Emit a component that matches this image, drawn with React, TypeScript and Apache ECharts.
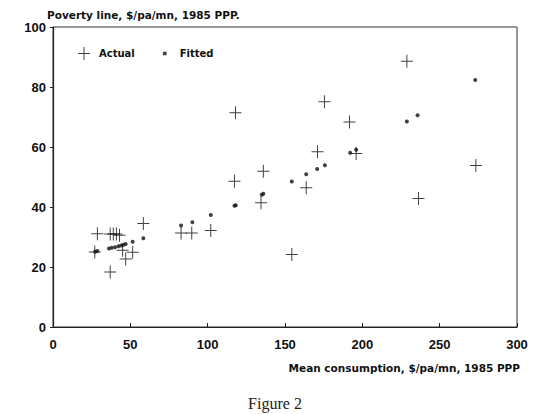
import React, { useEffect, useRef } from "react";
import * as echarts from "echarts";

const actualX = [27, 28.7, 37, 39, 41, 43, 37, 45, 47, 51.5, 58.4, 82.8, 89.7, 102, 118, 117.3, 136, 134.5, 154.4, 163.7, 171, 175.5, 191.7, 196, 228.8, 236.3, 273.4];
const actualY = [25, 31.1, 31, 31, 31, 30.6, 18.3, 25.6, 22.7, 24.9, 34.5, 31.3, 31.3, 32.2, 71.4, 48.6, 51.9, 41.4, 24.2, 46.4, 58.4, 75.1, 68.3, 57.8, 88.6, 42.8, 53.8];

const fittedX = [27.2, 28.7, 36.2, 38, 40.1, 42.3, 44, 45.5, 47, 51.5, 58.4, 82.8, 90.1, 102, 117.3, 118.2, 135, 136, 154.4, 163.7, 170.8, 175.8, 192.1, 196, 228.8, 235.7, 273];
const fittedY = [25.1, 25.3, 26.2, 26.4, 26.6, 26.9, 27.2, 27.4, 27.7, 28.4, 29.6, 33.8, 34.9, 37.3, 40.4, 40.6, 44.1, 44.4, 48.5, 50.9, 52.7, 53.9, 58.1, 59.1, 68.5, 70.6, 82.3];

const seriesNames = ["Actual", "Fitted"];
const yTitle = "Poverty line, $/pa/mn, 1985 PPP.";
const xTitle = "Mean consumption, $/pa/mn, 1985 PPP";
const caption = "Figure 2";

const CROSS = "path://M0,6H5.5V0H6.5V6H12V7H6.5V13H5.5V7H0Z";
const DOT_ICON = "path://M0,0L0.01,0L0,0.01Z M4.5,4.5H8.5V8.5H4.5Z M12.99,13L13,13L13,12.99Z";

export default function App() {
  const ref = useRef<HTMLDivElement>(null);
  useEffect(() => {
    if (!ref.current) return;
    const chart = echarts.init(ref.current, null, { renderer: "svg" });
    const font = "'Liberation Sans', Arial, sans-serif";
    const wide = "'DejaVu Sans', Verdana, sans-serif";
    chart.setOption({
      animation: false,
      backgroundColor: "#fff",
      graphic: [
        {
          type: "text",
          x: 47,
          y: 15,
          style: { text: yTitle, font: `bold 10.5px ${wide}`, fill: "#111", textAlign: "left", textVerticalAlign: "middle" },
        },
        {
          type: "text",
          x: 520,
          y: 368,
          style: { text: xTitle, font: `bold 10.5px ${wide}`, fill: "#111", textAlign: "right", textVerticalAlign: "middle" },
        },
        {
          type: "text",
          x: 275,
          y: 403,
          style: { text: caption, font: "16px 'Liberation Serif', 'Times New Roman', serif", fill: "#222", textAlign: "center", textVerticalAlign: "middle" },
        },
      ],
      legend: {
        left: 78,
        top: 47,
        padding: 0,
        itemWidth: 12,
        itemHeight: 13,
        itemGap: 24,
        textStyle: { fontFamily: wide, fontSize: 10, fontWeight: "bold", color: "#111", padding: [0, 0, 0, 4] },
        data: [
          { name: seriesNames[0], icon: CROSS },
          { name: seriesNames[1], icon: DOT_ICON },
        ],
      },
      grid: { left: 53, right: 23, top: 27, bottom: 87, show: true, borderColor: "#333", borderWidth: 1 },
      xAxis: {
        type: "value",
        min: 0,
        max: 300,
        interval: 50,
        splitLine: { show: false },
        axisLine: { lineStyle: { color: "#222", width: 1.2 } },
        axisTick: { inside: true, length: 4, lineStyle: { color: "#222" } },
        axisLabel: { margin: 11, fontFamily: font, fontSize: 13, fontWeight: "bold", color: "#111" },
      },
      yAxis: {
        type: "value",
        min: 0,
        max: 100,
        interval: 20,
        splitLine: { show: false },
        axisLine: { show: true, lineStyle: { color: "#222", width: 1.2 } },
        axisTick: { show: true, inside: false, length: 3, lineStyle: { color: "#222" } },
        axisLabel: { margin: 7, fontFamily: font, fontSize: 13, fontWeight: "bold", color: "#111" },
      },
      series: [
        {
          name: seriesNames[0],
          type: "scatter",
          symbol: CROSS,
          symbolSize: [12, 13],
          itemStyle: { color: "#111" },
          data: actualX.map((x, i) => [x, actualY[i]]),
        },
        {
          name: seriesNames[1],
          type: "scatter",
          symbol: "circle",
          symbolSize: 4,
          itemStyle: { color: "#111" },
          data: fittedX.map((x, i) => [x, fittedY[i]]),
        },
      ],
    });
    return () => chart.dispose();
  }, []);
  return <div ref={ref} style={{ position: "fixed", left: 0, top: 0, width: 540, height: 414 }} />;
}
